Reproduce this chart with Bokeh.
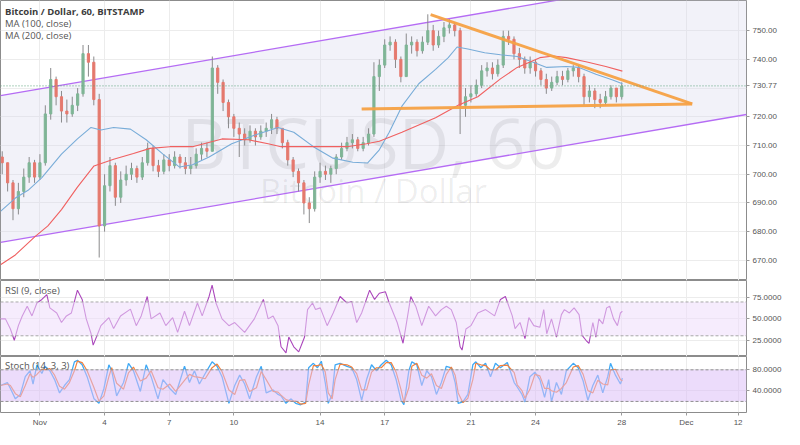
import numpy as np
from bokeh.plotting import figure
from bokeh.layouts import column
from bokeh.models import (ColumnDataSource, FixedTicker, NumeralTickFormatter, Span,
                          Label, BoxAnnotation, Range1d)
from bokeh.embed import file_html
from bokeh.resources import INLINE
from bokeh.core.properties import value

# ---------------- data (days since Nov 1, 00:00) ----------------
candle_start_day = -1.75
candle_step = 0.25
first_open = 706
closes = [704, 697, 688, 694, 699, 704, 699, 704,
          721, 733, 727, 722, 721, 724, 728, 742,
          739, 726, 682, 696, 703, 692, 698, 700,
          702, 699, 704, 709, 703, 701, 705, 703,
          706, 704, 702, 703, 707, 709, 708, 737,
          732, 725, 720, 716, 714, 712, 715, 713,
          715, 716, 719, 716, 711, 705, 701, 697,
          690, 688, 699, 701, 700, 702, 706, 709,
          711, 712, 709, 711, 714, 734, 738, 745,
          746, 740, 734, 745, 746, 743, 746, 750,
          745, 748, 751, 752, 750, 724, 727, 728,
          731, 736, 737, 735, 738, 748, 747, 742,
          740, 737, 739, 736, 733, 730, 732, 734,
          733, 736, 737, 734, 727, 729, 726, 725,
          727, 730, 727, 730.77]
highs = [708, 704, 698, 697, 702, 706, 705, 707,
         724, 737, 734, 729, 726, 727, 730, 745,
         745, 741, 728, 700, 706, 704, 701, 703,
         704, 703, 706, 711, 710, 705, 707, 707,
         708, 707, 706, 706, 709, 711, 711, 741,
         738, 733, 726, 721, 718, 716, 717, 716,
         717, 718, 721, 720, 716, 712, 706, 702,
         698, 692, 701, 704, 703, 703, 707, 711,
         713, 714, 713, 713, 716, 739, 740, 747,
         748, 747, 741, 749, 748, 747, 748, 755.7,
         752, 750, 753, 754, 753, 751, 730, 731,
         733, 738, 739, 739, 740, 750, 750, 748,
         744, 741, 741, 740, 737, 735, 734, 736,
         736, 737, 738, 738, 735, 731, 730, 728,
         729, 731, 730, 732]
lows = [700, 694, 684, 686, 692, 697, 697, 698,
        703, 719, 724, 718, 718, 720, 722, 727,
        734, 724, 671, 680, 694, 689, 690, 696,
        698, 697, 698, 703, 701, 699, 700, 701,
        702, 702, 700, 700, 702, 705, 706, 708,
        728, 722, 716, 713, 706, 710, 711, 710,
        712, 713, 714, 714, 709, 703, 699, 694,
        686, 683, 687, 697, 698, 697, 700, 705,
        708, 709, 708, 708, 710, 713, 729, 737,
        743, 737, 732, 734, 742, 741, 742, 745,
        743, 744, 746, 749, 748, 714, 720, 725,
        727, 730, 734, 733, 734, 737, 745, 740,
        737, 735, 735, 734, 731, 728, 729, 731,
        731, 732, 734, 732, 724, 725, 723, 723,
        724, 726, 725, 726]

ma100_days = [-1.83, -1.14, -0.55, 0.09, 1.0, 1.74, 2.37, 2.83, 3.42, 4.2, 4.93, 5.71, 6.48, 7.08,
              7.85, 8.9, 9.95, 11.05, 11.78, 12.69, 13.6, 14.52, 15.2, 15.75, 16.21, 16.8, 17.58,
              18.36, 18.95, 19.36, 19.86, 20.64, 21.37, 22.15, 22.92, 23.52, 24.43, 25.02, 25.8,
              26.58, 27.03]
ma100_vals = [687.1, 691.7, 694.4, 698.8, 707.0, 712.3, 716.3, 715.4, 716.3, 715.7, 712.0, 707.0,
              702.5, 703.3, 706.0, 710.6, 713.6, 716.3, 714.6, 709.6, 705.6, 704.2, 703.9, 708.5,
              714.6, 723.7, 731.5, 736.5, 740.6, 744.3, 743.6, 742.3, 741.6, 741.0, 738.9, 737.2,
              737.5, 737.2, 734.8, 732.8, 731.5]
ma200_days = [-1.83, -1.14, -0.23, 0.37, 1.0, 1.74, 2.51, 3.42, 4.34, 5.11, 6.03, 7.08, 8.45, 9.68,
              10.59, 11.19, 12.69, 14.25, 15.16, 15.75, 16.8, 18.36, 19.41, 20.32, 21.37, 22.15,
              23.2, 23.84, 24.43, 25.34, 26.26, 27.03]
ma200_vals = [668.5, 671.9, 678.3, 682.0, 687.7, 695.5, 702.9, 705.2, 707.2, 709.0, 709.6, 709.6,
              712.3, 712.0, 710.6, 709.6, 709.6, 709.6, 710.6, 711.5, 714.6, 719.7, 724.0, 727.0,
              733.2, 737.2, 740.6, 741.2, 740.6, 739.2, 737.5, 735.9]

channel_days = [-1.83, 32.79]
channel_upper = [727.4, 771.9]
channel_lower = [676.3, 720.8]
tri_top_days = [18.13, 30.27]
tri_top_vals = [755.6, 724.5]
tri_base_days = [14.93, 30.27]
tri_base_vals = [722.7, 724.5]
last_price = 730.77

rsi_days = [-1.83, -1.6, -1.37, -1.19, -1.0, -0.82, -0.59, -0.37, -0.14, 0.09,
            0.32, 0.46, 0.78, 1.0, 1.23, 1.46, 1.74, 1.96, 2.15, 2.37,
            2.47, 2.65, 2.83, 3.2, 3.42, 3.74, 4.2, 4.47, 4.7, 4.98,
            5.16, 5.57, 5.84, 6.16, 6.39, 6.71, 6.94, 7.31, 7.53, 7.85,
            7.99, 8.17, 8.45, 8.77, 9.04, 9.5, 9.95, 10.37, 10.59, 10.82,
            11.05, 11.19, 11.42, 11.55, 11.78, 12.01, 12.19, 12.28, 12.42, 12.65,
            12.79, 13.01, 13.33, 13.61, 13.93, 14.25, 14.47, 14.7, 14.93, 15.3,
            15.53, 15.75, 16.03, 16.21, 16.58, 16.85, 16.99, 17.21, 17.44, 17.72,
            18.04, 18.36, 18.63, 18.86, 19.09, 19.32, 19.5, 19.59, 19.77, 20.0,
            20.32, 20.68, 21.1, 21.37, 21.6, 21.92, 22.05, 22.28, 22.51, 22.69,
            22.92, 23.2, 23.38, 23.52, 23.74, 23.97, 24.2, 24.34, 24.57, 24.79,
            25.02, 25.16, 25.34, 25.48, 25.66, 25.8, 25.94, 26.12, 26.3, 26.44,
            26.62, 26.8, 26.94, 27.03]
rsi_vals = [50, 50, 38, 24.7, 42, 53.5, 65, 53.5, 68.8, 73,
            78.8, 63, 57, 45.7, 53.5, 57, 84, 73, 50, 32.7,
            19, 30.4, 42, 51.5, 38.5, 53.5, 61.5, 42, 53.5, 76.5,
            50, 57, 42, 51.5, 34, 59, 42, 68.8, 53.5, 76.5,
            90, 68.8, 50, 42, 45.7, 34, 50, 73, 50, 53.5,
            42, 17, 9.7, 28.5, 17, 11, 22.7, 28.5, 61, 68.8,
            61, 63, 42, 57, 76.5, 68.8, 70.5, 45.7, 57, 84,
            73, 80.3, 82.2, 68.8, 45.7, 21.2, 42, 76.5, 65, 42,
            65, 53.5, 61, 65, 61, 45.7, 17, 13.1, 38, 42,
            57, 61, 53.5, 73, 76.5, 53.5, 38.5, 45.7, 26.6, 51.5,
            42, 40, 61, 32.4, 50, 28.5, 55, 61, 57, 63,
            55, 30.4, 24.7, 21, 45.7, 28.5, 50, 44, 63, 65,
            50, 42, 57, 59]

stoch_days = [-1.83, -1.51, -1.37, -1.14, -0.91, -0.68, -0.46, -0.32, -0.14, 0.09,
              0.23, 0.46, 0.68, 0.91, 1.14, 1.37, 1.6, 1.74, 1.96, 2.19,
              2.51, 2.74, 2.97, 3.2, 3.33, 3.56, 3.88, 4.11, 4.34, 4.66,
              4.93, 5.16, 5.48, 5.71, 6.03, 6.3, 6.71, 6.94, 7.17, 7.4,
              7.67, 7.99, 8.22, 8.45, 8.77, 9.04, 9.27, 9.5, 9.73, 10.05,
              10.27, 10.5, 10.82, 11.05, 11.19, 11.42, 11.64, 11.87, 12.1, 12.33,
              12.47, 12.69, 12.88, 13.06, 13.24, 13.38, 13.56, 13.7, 13.93, 14.25,
              14.47, 14.7, 14.93, 15.16, 15.39, 15.62, 15.84, 16.07, 16.3, 16.53,
              16.76, 16.89, 17.12, 17.26, 17.49, 17.72, 17.95, 18.17, 18.4, 18.63,
              18.86, 19.09, 19.27, 19.41, 19.63, 19.86, 20.09, 20.23, 20.46, 20.68,
              20.91, 21.14, 21.37, 21.69, 22.01, 22.15, 22.37, 22.51, 22.74, 22.97,
              23.2, 23.42, 23.61, 23.74, 23.97, 24.2, 24.43, 24.75, 24.98, 25.21,
              25.43, 25.66, 25.89, 26.12, 26.35, 26.48, 26.71, 26.94, 27.03]
stoch_k = [50.2, 55.9, 44.6, 24.9, 33.3, 67, 78.3, 53, 89.6, 73,
           86.7, 78.3, 61.5, 36.2, 50.2, 61.5, 95.2, 98, 89.6, 67,
           24.9, 16.4, 44.6, 89.6, 78.3, 30.6, 55.9, 92.3, 78.3, 39,
           89.6, 67, 24.9, 61.5, 44.6, 33.3, 86.7, 55.9, 78.3, 53,
           73, 95.2, 86.7, 67, 16.4, 50.2, 69.9, 53, 24.9, 67,
           86.7, 36.2, 41.8, 33.3, 30.6, 16.4, 24.9, 16.4, 13.7, 19,
           83.9, 92.3, 83.9, 96.3, 55.9, 16.4, 33.3, 89.6, 92.3, 86.7,
           83.9, 61.5, 22.2, 61.5, 89.6, 78.3, 89.6, 98, 89.6, 61.5,
           22.2, 13.7, 78.3, 95.2, 89.6, 50.2, 78.3, 67, 33.3, 55.9,
           86.7, 83.9, 55.9, 16.4, 19, 33.3, 89.6, 95.2, 83.9, 92.3,
           67, 92.3, 83.9, 93.8, 55.9, 47.4, 33.3, 19, 67, 75.5,
           61.5, 27.8, 61.5, 19, 55.9, 33.3, 78.3, 92.3, 83.9, 58.7,
           22.2, 50.2, 69.9, 36.2, 67, 92.3, 69.9, 53, 64.3]

price_ticks = [670, 680, 690, 700, 710, 720, 740, 750]
price_grid = [670, 680, 690, 700, 710, 720, 730, 740, 750]
tick_days = [0, 3, 6, 9, 13, 16, 20, 23, 27, 30, 32.4]
tick_labels = ["Nov", "4", "7", "10", "14", "17", "21", "24", "28", "Dec", "12"]

# ---------------- derived ----------------
n = len(closes)
t = candle_start_day + candle_step * np.arange(n)
opens = [first_open] + closes[:-1]
up = [c >= o for o, c in zip(opens, closes)]
src = ColumnDataSource(dict(
    t=t, o=opens, c=closes, h=highs, l=lows,
    top=[max(o, c) for o, c in zip(opens, closes)],
    bot=[min(o, c) for o, c in zip(opens, closes)],
    col=["#7fb596" if u else "#e5796e" for u in up],
))
k_arr = np.array(stoch_k, dtype=float)
d_arr = np.concatenate([[k_arr[0]], (k_arr[1:] + k_arr[:-1]) / 2])

FONT = "Liberation Sans"
GRID = "#ececec"
OUTLINE = "#8c8c8c"
W = 784
RB = 37
xr = Range1d(-1.83, 32.79)


def base_fig(height, yr, x_axis=False):
    f = figure(width=W, height=height, x_range=xr, y_range=yr,
               y_axis_location="right", x_axis_location="below" if x_axis else None,
               toolbar_location=None, output_backend="svg",
               min_border_left=0, min_border_right=RB, min_border_top=0, min_border_bottom=0)
    f.background_fill_color = "white"
    f.border_fill_color = "white"
    f.outline_line_color = OUTLINE
    f.outline_line_width = 1
    f.xgrid.ticker = FixedTicker(ticks=tick_days)
    f.xgrid.grid_line_color = GRID
    f.ygrid.grid_line_color = GRID
    ax = f.yaxis[0]
    ax.axis_line_color = None
    ax.major_tick_line_color = "#9a9a9a"
    ax.major_tick_out = 3
    ax.major_tick_in = 0
    ax.minor_tick_line_color = None
    ax.major_label_text_font = FONT
    ax.major_label_text_font_size = "8px"
    ax.major_label_text_color = "#555555"
    ax.major_label_standoff = 3
    return f


# ---------------- main price panel ----------------
p1 = base_fig(280, Range1d(663, 760.5))
p1.yaxis[0].ticker = FixedTicker(ticks=price_ticks + [last_price])
p1.yaxis[0].formatter = NumeralTickFormatter(format="0.00")
p1.ygrid.ticker = FixedTicker(ticks=price_grid)

p1.varea(x=channel_days, y1=channel_lower, y2=channel_upper, fill_color="#d9d9ef", fill_alpha=0.35)
p1.text(x=[15.48], y=[711.3], text=["BTCUSD, 60"], text_font=value("Open Sans"),
        text_font_size="70px", text_color="#000000", text_alpha=0.07,
        text_align="center", text_baseline="alphabetic")
p1.text(x=[15.48], y=[694.4], text=["Bitcoin / Dollar"], text_font=value("Open Sans"),
        text_font_size="33px", text_color="#000000", text_alpha=0.07,
        text_align="center", text_baseline="alphabetic")

p1.line(channel_days, channel_upper, line_color="#b56cf4", line_width=1.3)
p1.line(channel_days, channel_lower, line_color="#b56cf4", line_width=1.3)

p1.segment(x0="t", y0="l", x1="t", y1="h", source=src, line_color="#8a8a8c", line_width=1)
p1.vbar(x="t", width=0.1, top="top", bottom="bot", source=src,
        fill_color="col", line_color="col")

p1.line(ma100_days, ma100_vals, line_color="#78acd8", line_width=1.1)
p1.line(ma200_days, ma200_vals, line_color="#f06060", line_width=1.1)

p1.line(tri_top_days, tri_top_vals, line_color="#f5a145", line_width=3, line_alpha=0.95)
p1.line(tri_base_days, tri_base_vals, line_color="#f5a145", line_width=3, line_alpha=0.95)

p1.add_layout(Span(location=last_price, dimension="width", line_color="#5ba37b",
                   line_dash="1 2", line_width=1))

p1.add_layout(Label(x=-1.62, y=756.6, text="Bitcoin / Dollar, 60, BITSTAMP", text_font="Open Sans",
                    text_font_size="9.5px", text_font_style="bold", text_color="#3c3c3c",
                    text_baseline="middle"))
p1.add_layout(Label(x=-1.62, y=752.6, text="MA (100, close)", text_font="Open Sans",
                    text_font_size="9.5px", text_color="#555555", text_baseline="middle"))
p1.add_layout(Label(x=-1.62, y=748.3, text="MA (200, close)", text_font="Open Sans",
                    text_font_size="9.5px", text_color="#555555", text_baseline="middle"))

# ---------------- RSI panel ----------------
p2 = base_fig(76, Range1d(5.5, 95.4))
p2.yaxis[0].ticker = FixedTicker(ticks=[25, 50, 75])
p2.yaxis[0].formatter = NumeralTickFormatter(format="0.0000")
p2.add_layout(BoxAnnotation(bottom=30, top=70, fill_color="#eedcfb", fill_alpha=0.55, line_color=None))
for lv in (30, 70):
    p2.add_layout(Span(location=lv, dimension="width", line_color="#a8a8a8", line_dash="3 2", line_width=1))
p2.add_layout(Label(x=-1.62, y=83, text="RSI (9, close)", text_font="Open Sans",
                    text_font_size="9.5px", text_color="#555555", text_baseline="middle"))
p2.line(rsi_days, rsi_vals, line_color="#ab47bc", line_width=1.1)

# ---------------- Stochastic panel ----------------
p3 = base_fig(73, Range1d(-1, 105.3), x_axis=True)
p3.yaxis[0].ticker = FixedTicker(ticks=[40, 80])
p3.yaxis[0].formatter = NumeralTickFormatter(format="0.0000")
p3.add_layout(BoxAnnotation(bottom=20, top=80, fill_color="#dcc0f8", fill_alpha=0.55, line_color=None))
for lv in (20, 80):
    p3.add_layout(Span(location=lv, dimension="width", line_color="#8f8f8f", line_dash="3 2", line_width=1))
p3.add_layout(Label(x=-1.62, y=88, text="Stoch (14, 3, 3)", text_font="Open Sans",
                    text_font_size="9.5px", text_color="#555555", text_baseline="middle"))
p3.line(stoch_days, k_arr, line_color="#3fa9f5", line_width=1.3)
p3.line(stoch_days, d_arr, line_color="#f2813d", line_width=1.2)

xa = p3.xaxis[0]
xa.ticker = FixedTicker(ticks=tick_days)
xa.major_label_overrides = {d: lab for d, lab in zip(tick_days, tick_labels)}
xa.axis_line_color = None
xa.major_tick_line_color = "#9a9a9a"
xa.major_tick_out = 3
xa.major_tick_in = 0
xa.minor_tick_line_color = None
xa.major_label_text_font = FONT
xa.major_label_text_font_size = "8px"
xa.major_label_text_color = "#555555"
xa.major_label_standoff = 2

layout = column(p1, p2, p3, spacing=0)
open("out.html", "w").write(file_html(layout, INLINE))
